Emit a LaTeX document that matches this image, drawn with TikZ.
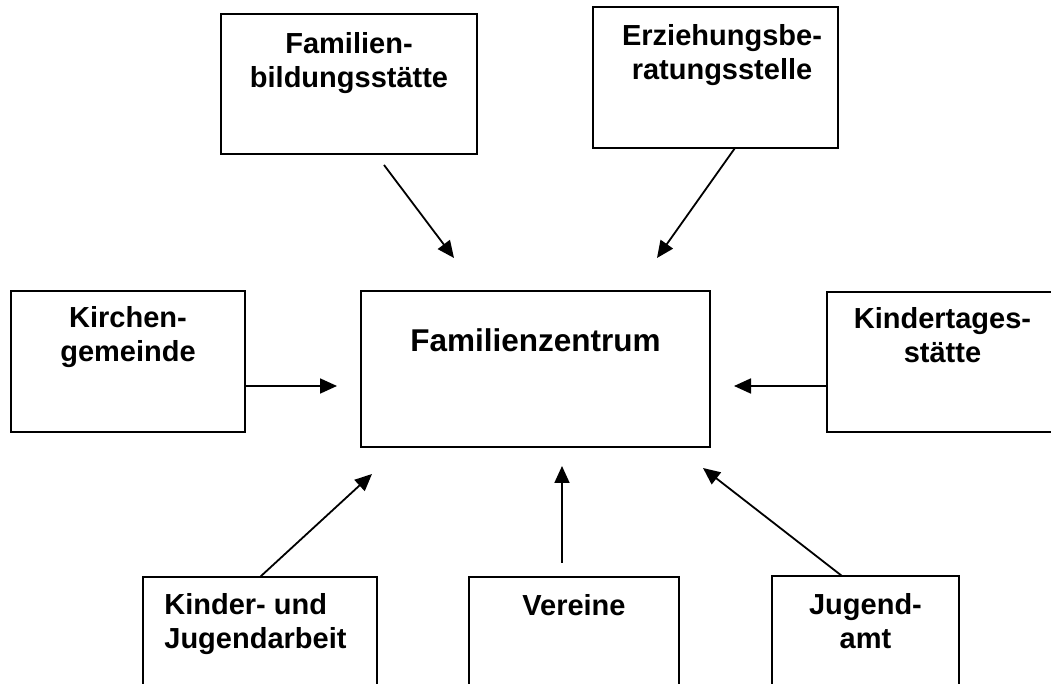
\documentclass[tikz,border=0pt]{standalone}
\usepackage{fontspec}
\setmainfont{Liberation Sans}
\usetikzlibrary{arrows.meta,fit}
\begin{document}
\begin{tikzpicture}[x=0.5pt,y=-0.5pt,
  box/.style={draw, line width=1pt, inner sep=0pt, rectangle},
  lbl/.style={font=\fontsize{14.5}{17}\selectfont\bfseries, align=center, inner sep=0pt, anchor=base},
  big/.style={font=\fontsize{15.75}{18}\selectfont\bfseries, inner sep=0pt, anchor=base},
  arr/.style={line width=0.9pt, -{Triangle[length=8.5pt,width=7.5pt]}}]
\useasboundingbox (0,0) rectangle (1051,684);
\clip (0,0) rectangle (1051,684);
% boxes
\node[box, fit={(221,14) (477,154)}] (fam) {};
\node[box, fit={(593,7) (838,148)}] (erz) {};
\node[box, fit={(11,291) (245,432)}] (kirche) {};
\node[box, fit={(361,291) (710,447)}] (zentrum) {};
\node[box, fit={(827,292) (1090,432)}] (kita) {};
\node[box, fit={(143,577) (377,720)}] (kinder) {};
\node[box, fit={(469,577) (679,720)}] (vereine) {};
\node[box, fit={(772,576) (959,720)}] (jugendamt) {};
% labels (anchor base = baseline of last line)
\node[lbl] (tfam) at (349,88) {Familien-\\bildungsstätte};
\node[lbl] (terz) at (722,80) {Erziehungsbe-\\ratungsstelle};
\node[lbl] (tkirche) at (128,362) {Kirchen-\\gemeinde};
\node[big] (tzentrum) at (535.5,352) {Familienzentrum};
\node[lbl] (tkita) at (942.5,363) {Kindertages-\\stätte};
\node[lbl, align=left, anchor=base west] (tkinder) at (164,648) {Kinder- und\\Jugendarbeit};
\node[lbl] (tvereine) at (574,616) {Vereine};
\node[lbl] (tjugendamt) at (865.5,648) {Jugend-\\amt};
% arrow end points
\coordinate (fS) at (384,165);  \coordinate (fE) at (454,258);
\coordinate (eS) at (735,148);  \coordinate (eE) at (657,258);
\coordinate (kS) at (245,386);  \coordinate (kE) at (337,386);
\coordinate (tS) at (827,386);  \coordinate (tE) at (734,386);
\coordinate (jS) at (260,577);  \coordinate (jE) at (372,474);
\coordinate (vS) at (562,563);  \coordinate (vE) at (562,466);
\coordinate (aS) at (842,576);  \coordinate (aE) at (703,468);
\draw[arr] (fS) -- (fE);
\draw[arr] (eS) -- (eE);
\draw[arr] (kS) -- (kE);
\draw[arr] (tS) -- (tE);
\draw[arr] (jS) -- (jE);
\draw[arr] (vS) -- (vE);
\draw[arr] (aS) -- (aE);
\end{tikzpicture}
\end{document}
